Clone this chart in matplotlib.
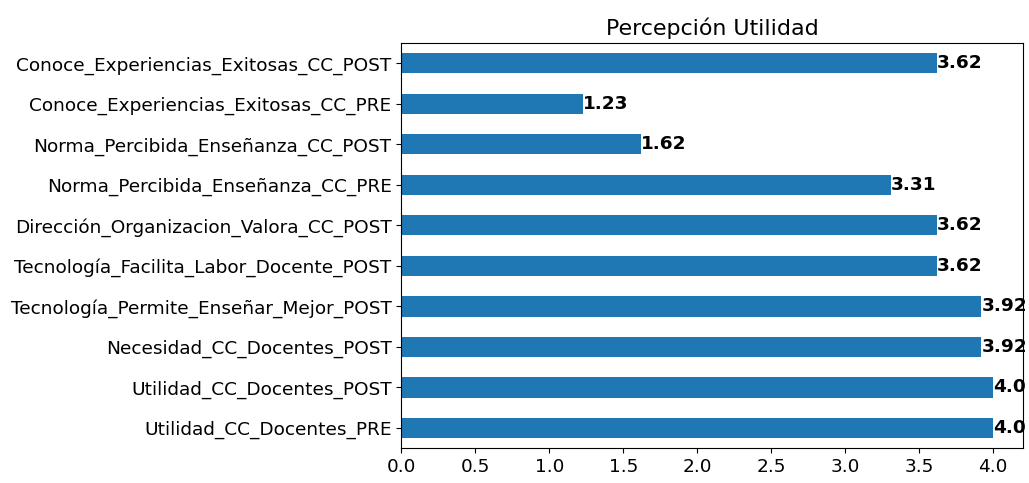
import numpy as np
from matplotlib import pyplot as plt

labels = ["Utilidad_CC_Docentes_PRE",
          "Utilidad_CC_Docentes_POST",
          "Necesidad_CC_Docentes_POST",
          "Tecnología_Permite_Enseñar_Mejor_POST",
          "Tecnología_Facilita_Labor_Docente_POST",
          "Dirección_Organizacion_Valora_CC_POST",
          "Norma_Percibida_Enseñanza_CC_PRE",
          "Norma_Percibida_Enseñanza_CC_POST",
          "Conoce_Experiencias_Exitosas_CC_PRE",
          "Conoce_Experiencias_Exitosas_CC_POST"]
values = [4.0, 4.0, 3.92, 3.92, 3.62, 3.62, 3.31, 1.62, 1.23, 3.62]

plt.rcParams['font.size'] = 13.3
fig = plt.figure(figsize=(10.29, 4.83), dpi=100)
ax = fig.add_axes([0.39, 0.072, 0.604, 0.839])

y = np.arange(len(labels))
ax.barh(y, values, height=0.5, color='#1f77b4')
ax.set_yticks(y)
ax.set_yticklabels(labels)
ax.set_ylim(-0.5, len(labels) - 0.5)
ax.set_title("Percepción Utilidad")

for i, v in enumerate(values):
    ax.text(v, i, str(v), va='center', ha='left', fontweight='bold')

fig.savefig("out.png", dpi=100)
